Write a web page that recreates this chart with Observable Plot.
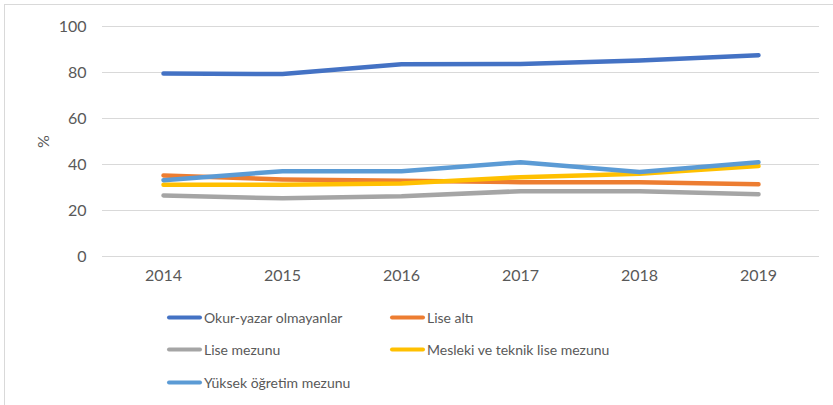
<!DOCTYPE html>
<html>
<head>
<meta charset="utf-8">
<script src="https://cdn.jsdelivr.net/npm/d3@7"></script>
<script src="https://cdn.jsdelivr.net/npm/@observablehq/plot@0.6"></script>
<style>
  html, body { margin: 0; padding: 0; background: #fff; }
  #wrap { position: relative; width: 833px; height: 405px; overflow: hidden; font-family: Lato, sans-serif; }
  #border { position: absolute; left: 4px; top: 4px; width: 840px; height: 420px; border: 1px solid #d9d9d9; box-sizing: border-box; }
  #chart { position: absolute; left: 0; top: 0; }
  #legend { position: absolute; left: 0; top: 0; width: 833px; }
  .item { position: absolute; display: flex; align-items: center; font-size: 14px; color: #595959; white-space: nowrap; transform: translateY(-50%); }
  .sw { width: 35px; height: 4px; border-radius: 2px; margin-right: 2px; }
</style>
</head>
<body>
<div id="wrap">
  <div id="border"></div>
  <div id="chart"></div>
  <div id="legend"></div>
</div>
<script>
const years = [2014, 2015, 2016, 2017, 2018, 2019];
const seriesNames = ["Okur-yazar olmayanlar", "Lise altı", "Lise mezunu", "Mesleki ve teknik lise mezunu", "Yüksek öğretim mezunu"];
const seriesColors = ["#4472C4", "#ED7D31", "#A5A5A5", "#FFC000", "#5B9BD5"];
const okurYazarOlmayanlar = [79.6, 79.3, 83.6, 83.7, 85.2, 87.5];
const liseAlti = [35.2, 33.5, 32.9, 32.3, 32.3, 31.4];
const liseMezunu = [26.5, 25.3, 26.2, 28.4, 28.4, 27.1];
const meslekiTeknik = [31.2, 31.2, 31.7, 34.5, 36.0, 39.3];
const yuksekOgretim = [33.2, 37.1, 37.1, 41.0, 36.7, 41.0];
const yTicks = [0, 20, 40, 60, 80, 100];

const allSeries = [okurYazarOlmayanlar, liseAlti, liseMezunu, meslekiTeknik, yuksekOgretim];
const data = [];
allSeries.forEach((vals, i) => vals.forEach((v, j) => data.push({year: String(years[j]), value: v, series: seriesNames[i]})));

const chart = Plot.plot({
  width: 833,
  height: 300,
  marginTop: 26,
  marginBottom: 44,
  marginLeft: 102,
  marginRight: 14,
  style: {fontFamily: "Lato, sans-serif", fontSize: "16px", color: "#595959", background: "transparent"},
  x: {type: "point", domain: years.map(String), padding: 0.5},
  y: {domain: [0, 100], ticks: yTicks},
  color: {domain: seriesNames, range: seriesColors},
  marks: [
    Plot.gridY(yTicks, {stroke: "#d9d9d9", strokeOpacity: 1, strokeWidth: 1}),
    Plot.axisY(yTicks, {tickSize: 0, tickPadding: 16, label: "%", labelAnchor: "center", labelArrow: "none", labelOffset: 65, fill: "#595959"}),
    Plot.axisX({tickSize: 0, tickPadding: 13, label: null, fill: "#595959"}),
    Plot.line(data, {x: "year", y: "value", z: "series", stroke: "series", strokeWidth: 4.5, strokeLinecap: "round", strokeLinejoin: "round"})
  ]
});
document.getElementById("chart").appendChild(chart);

const legend = document.getElementById("legend");
const pos = [[167, 317], [390, 317], [167, 349], [390, 349], [167, 382]];
seriesNames.forEach((name, i) => {
  const it = document.createElement("div");
  it.className = "item";
  it.style.left = pos[i][0] + "px";
  it.style.top = pos[i][1] + "px";
  const sw = document.createElement("div");
  sw.className = "sw";
  sw.style.background = seriesColors[i];
  it.appendChild(sw);
  const t = document.createElement("span");
  t.textContent = name;
  it.appendChild(t);
  legend.appendChild(it);
});
</script>
</body>
</html>
